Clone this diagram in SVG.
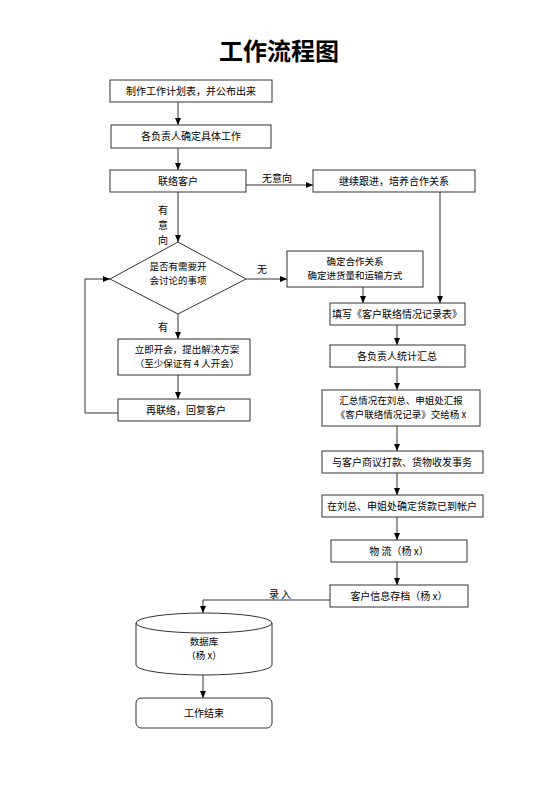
<svg xmlns="http://www.w3.org/2000/svg" width="560" height="792" viewBox="0 0 560 792">
<style>
.b{fill:#fff;stroke:#333;stroke-width:1}
.t{font-family:"Noto Sans CJK SC","Liberation Sans",sans-serif;font-size:10px;fill:#000;text-anchor:middle}
.t2{font-size:9.5px}
.l{fill:none;stroke:#333;stroke-width:1}
.title{font-family:"Noto Sans CJK SC","Liberation Sans",sans-serif;font-size:24px;font-weight:bold;text-anchor:middle}
</style>
<defs>
<marker id="a" markerWidth="8" markerHeight="8" refX="7" refY="4" orient="auto" markerUnits="userSpaceOnUse">
<path d="M0,1 L7,4 L0,7 Z" fill="#000"/>
</marker>
</defs>
<rect width="560" height="792" fill="#fff"/>
<text class="title" x="279" y="60">工作流程图</text>
<g id="connectors">
<path class="l" d="M178,102 V125" marker-end="url(#a)"/>
<path class="l" d="M178,148 V170" marker-end="url(#a)"/>
<path class="l" d="M178,192 V242" marker-end="url(#a)"/>
<path class="l" d="M246,185 H313" marker-end="url(#a)"/>
<path class="l" d="M440,192 V303" marker-end="url(#a)"/>
<path class="l" d="M246,279 H287" marker-end="url(#a)"/>
<path class="l" d="M178,314 V339" marker-end="url(#a)"/>
<path class="l" d="M178,375 V399" marker-end="url(#a)"/>
<path class="l" d="M118,413 H85 V279 H110" marker-end="url(#a)"/>
<path class="l" d="M363,287 V303" marker-end="url(#a)"/>
<path class="l" d="M397,325 V345" marker-end="url(#a)"/>
<path class="l" d="M397,367 V390" marker-end="url(#a)"/>
<path class="l" d="M397,426 V451" marker-end="url(#a)"/>
<path class="l" d="M397,473 V495" marker-end="url(#a)"/>
<path class="l" d="M397,517 V540" marker-end="url(#a)"/>
<path class="l" d="M397,562 V585" marker-end="url(#a)"/>
<path class="l" d="M330,600 H203 V613" marker-end="url(#a)"/>
<path class="l" d="M203,675 V698" marker-end="url(#a)"/>
<text class="t" x="163" y="214">有</text>
<text class="t" x="163" y="229">意</text>
<text class="t" x="163" y="244">向</text>
<text class="t" x="277" y="182">无意向</text>
<text class="t" x="262" y="273">无</text>
<text class="t" x="163" y="331">有</text>
<text class="t" x="280" y="598">录 入</text>
</g>
<g id="n1"><rect class="b" x="110" y="80" width="162" height="22"/><text class="t" x="191" y="95">制作工作计划表，并公布出来</text></g>
<g id="n2"><rect class="b" x="111" y="125" width="160" height="23"/><text class="t" x="191" y="140">各负责人确定具体工作</text></g>
<g id="n3"><rect class="b" x="110" y="170" width="136" height="22"/><text class="t" x="178" y="185">联络客户</text></g>
<g id="n4"><rect class="b" x="313" y="170" width="162" height="22"/><text class="t" x="394" y="185">继续跟进，培养合作关系</text></g>
<g id="n5"><polygon class="b" points="178,242 246,279 178,314 110,279"/><text class="t t2" x="178" y="270">是否有需要开</text><text class="t t2" x="178" y="284">会讨论的事项</text></g>
<g id="n6"><rect class="b" x="287" y="251" width="136" height="36"/><text class="t t2" x="355" y="265">确定合作关系</text><text class="t t2" x="355" y="279">确定进货量和运输方式</text></g>
<g id="n7"><rect class="b" x="118" y="339" width="132" height="36"/><text class="t t2" x="187" y="353">立即开会，提出解决方案</text><text class="t t2" x="187" y="367">（至少保证有 4 人开会）</text></g>
<g id="n8"><rect class="b" x="118" y="399" width="132" height="22"/><text class="t" x="186" y="414">再联络，回复客户</text></g>
<g id="n9"><rect class="b" x="330" y="303" width="135" height="22"/><text class="t" x="397" y="318">填写《客户联络情况记录表》</text></g>
<g id="n10"><rect class="b" x="330" y="345" width="135" height="22"/><text class="t" x="397" y="360">各负责人统计汇总</text></g>
<g id="n11"><rect class="b" x="322" y="390" width="158" height="36"/><text class="t t2" x="401" y="404">汇总情况在刘总、申姐处汇报</text><text class="t t2" x="401" y="418">《客户联络情况记录》交给杨 x</text></g>
<g id="n12"><rect class="b" x="322" y="451" width="161" height="22"/><text class="t" x="402" y="466">与客户商议打款、货物收发事务</text></g>
<g id="n13"><rect class="b" x="322" y="495" width="161" height="22"/><text class="t" x="402" y="510">在刘总、申姐处确定货款已到帐户</text></g>
<g id="n14"><rect class="b" x="331" y="540" width="136" height="22"/><text class="t" x="399" y="555">物 流（杨 x）</text></g>
<g id="n15"><rect class="b" x="330" y="585" width="138" height="22"/><text class="t" x="399" y="600">客户信息存档（杨 x）</text></g>
<g id="n16"><path class="b" d="M136,623 A68,10 0 0 1 272,623 V665 A68,10 0 0 1 136,665 Z"/><path class="l" d="M136,623 A68,10 0 0 0 272,623"/><text class="t t2" x="204" y="645">数据库</text><text class="t t2" x="204" y="659">（杨 x）</text></g>
<g id="n17"><rect class="b" x="136" y="698" width="136" height="30" rx="5"/><text class="t" x="204" y="717">工作结束</text></g>
</svg>
